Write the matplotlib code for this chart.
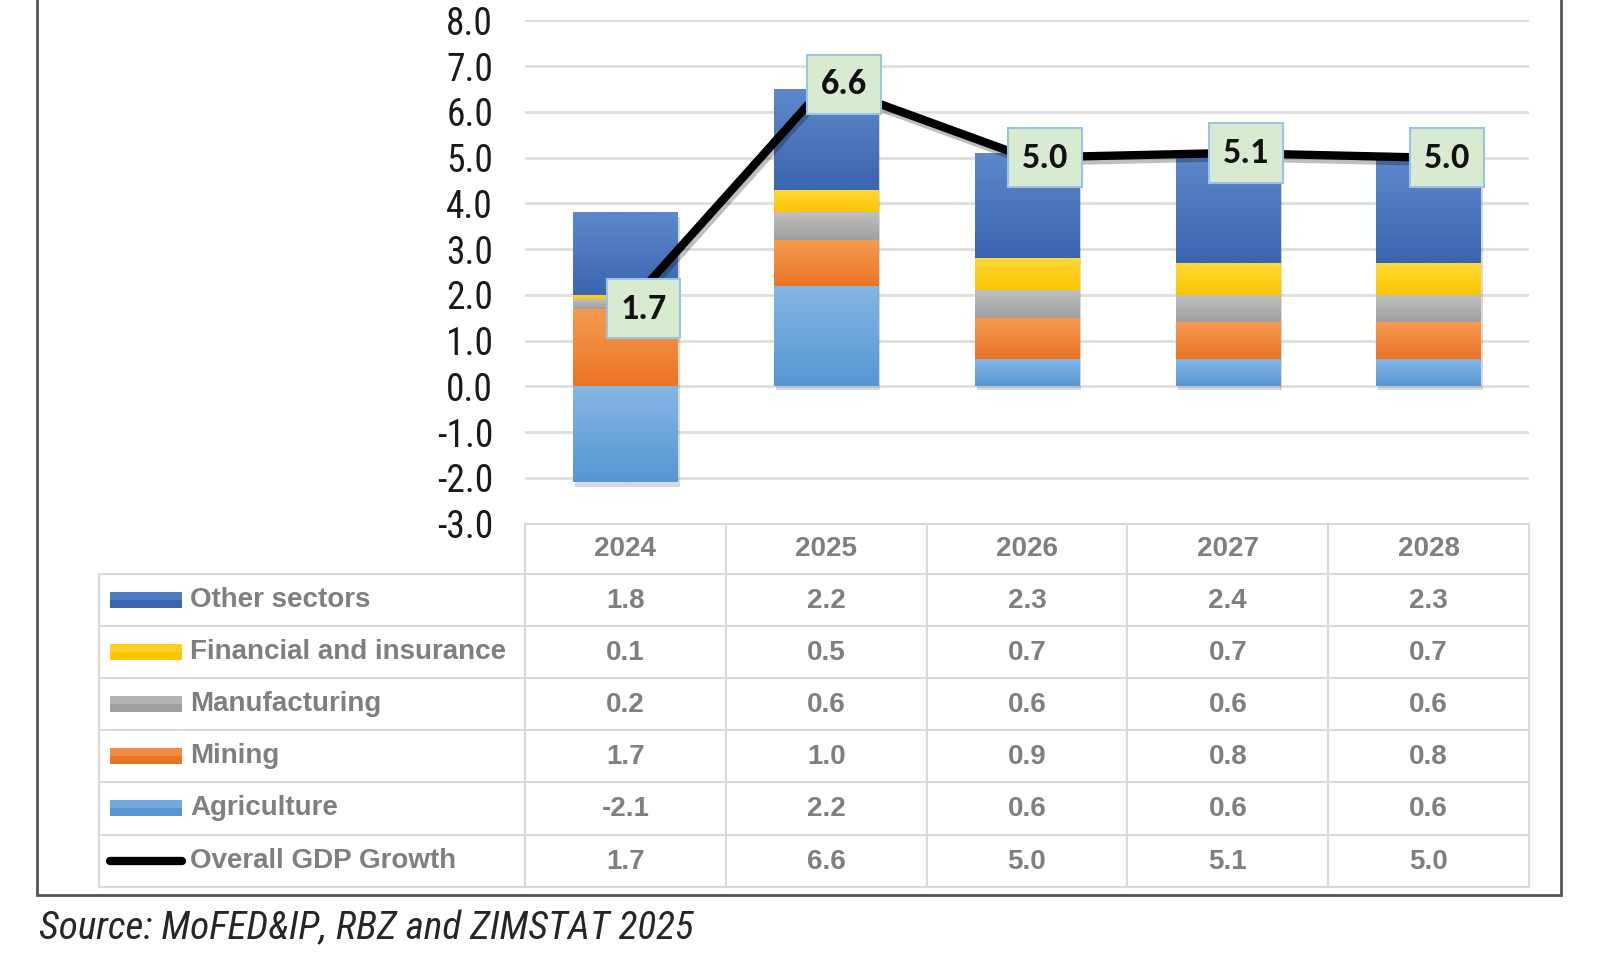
import numpy as np
import matplotlib
matplotlib.use("Agg")
import matplotlib.pyplot as plt
from matplotlib import font_manager
from matplotlib.colors import LinearSegmentedColormap
from matplotlib.patches import Rectangle
import matplotlib.patheffects as pe

years = ["2024", "2025", "2026", "2027", "2028"]
agriculture = [-2.1, 2.2, 0.6, 0.6, 0.6]
mining = [1.7, 1.0, 0.9, 0.8, 0.8]
manufacturing = [0.2, 0.6, 0.6, 0.6, 0.6]
financial = [0.1, 0.5, 0.7, 0.7, 0.7]
other = [1.8, 2.2, 2.3, 2.4, 2.3]
gdp = [1.7, 6.6, 5.0, 5.1, 5.0]
y_ticks = np.arange(-3, 9, 1)


def pick(*names):
    have = {f.name for f in font_manager.fontManager.ttflist}
    for n in names:
        if n in have:
            return n
    return "DejaVu Sans"


NARROW = pick("Liberation Sans Narrow", "Roboto Condensed", "Liberation Sans")
SANS = pick("Liberation Sans", "DejaVu Sans")
LABEL = pick("Carlito", "Lato", "Open Sans")

# (name, values, top colour, bottom colour) in stacking order
series = [
    ("Agriculture", agriculture, "#86b7e4", "#5596d3"),
    ("Mining", mining, "#f59b52", "#eb7424"),
    ("Manufacturing", manufacturing, "#c0c0c0", "#9f9f9f"),
    ("Financial and insurance", financial, "#ffd83a", "#fbc600"),
    ("Other sectors", other, "#5d88ca", "#3b66b0"),
]

W, H = 1600, 960
fig = plt.figure(figsize=(W / 100, H / 100), dpi=100)

# overlay in pixel units for frame and table
ov = fig.add_axes([0, 0, 1, 1], zorder=0)
ov.set_xlim(0, W)
ov.set_ylim(H, 0)
ov.axis("off")

ax_left, ax_right = 525, 1529
y_top, y_bot = 20.4, 523.5
ax = fig.add_axes([ax_left / W, 1 - y_bot / H, (ax_right - ax_left) / W, (y_bot - y_top) / H], zorder=1)
ax.patch.set_alpha(0)

x = np.arange(len(years))
bw = 0.52
pos_base = np.zeros(len(years))
neg_base = np.zeros(len(years))
shadow = [pe.SimplePatchShadow(offset=(1.5, -3), alpha=0.18), pe.Normal()]
for name, vals, ctop, cbot in series:
    vals = np.array(vals)
    base = np.where(vals >= 0, pos_base, neg_base)
    bars = ax.bar(x, vals, bw, bottom=base, color=cbot, zorder=2, linewidth=0)
    cmap = LinearSegmentedColormap.from_list(name, [cbot, ctop])
    for r in bars:
        r.set_path_effects(shadow)
        x0, w = r.get_x(), r.get_width()
        lo, hi = sorted([r.get_y(), r.get_y() + r.get_height()])
        grad = np.linspace(0, 1, 64).reshape(-1, 1)
        im = ax.imshow(grad, extent=[x0, x0 + w, lo, hi], origin="lower", cmap=cmap,
                       aspect="auto", zorder=2.1, interpolation="bilinear")
        im.set_clip_path(r)
    pos_base += np.where(vals >= 0, vals, 0)
    neg_base += np.where(vals < 0, vals, 0)

ax.plot(x, gdp, color="black", lw=6, solid_capstyle="round", zorder=4,
        path_effects=[pe.SimpleLineShadow(offset=(1.5, -3), alpha=0.25), pe.Normal()])
for i, v in enumerate(gdp):
    ax.annotate(f"{v:.1f}", (i, v), xytext=(13, 0), textcoords="offset points",
                ha="center", va="center", fontsize=26, fontweight="bold", family=LABEL,
                color="#111111", zorder=6,
                bbox=dict(boxstyle="square,pad=0.38", fc="#d8ead0", ec="#9cc3e5", lw=1.5))

ax.set_xlim(-0.5, len(years) - 0.5)
ax.set_ylim(-3, 8)
ax.set_yticks(y_ticks)
ax.set_yticklabels([f"{t:.1f}" for t in y_ticks], fontsize=27, family=NARROW, color="#1a1a1a")
ax.set_xticks([])
ax.tick_params(axis="y", length=0, pad=23)
for s in ax.spines.values():
    s.set_visible(False)
for t in y_ticks[1:]:
    ax.axhline(t, color="#dedede", lw=2, zorder=1)

# frame
ov.add_patch(Rectangle((37, -20), 1561 - 37, 895 + 20, fill=False, ec="#555555", lw=2))

# table
gc = "#d9d9d9"
lab_left = 99
col_w = (ax_right - ax_left) / len(years)
head_top, head_bot = 523.5, 573.5
row_h = 52.2
rows = [("Other sectors", other), ("Financial and insurance", financial),
        ("Manufacturing", manufacturing), ("Mining", mining),
        ("Agriculture", agriculture), ("Overall GDP Growth", gdp)]
key_cols = {s[0]: s[2] for s in series}
key_cols_b = {s[0]: s[3] for s in series}
tab_bot = head_bot + row_h * len(rows)

ov.plot([ax_left, ax_right], [head_top, head_top], color=gc, lw=1.5)
for k in range(len(rows) + 1):
    yy = head_bot + k * row_h
    ov.plot([lab_left, ax_right], [yy, yy], color=gc, lw=1.5)
ov.plot([lab_left, lab_left], [head_bot, tab_bot], color=gc, lw=1.5)
for j in range(len(years) + 1):
    xx = ax_left + j * col_w
    ov.plot([xx, xx], [head_top, tab_bot], color=gc, lw=1.5)

tc = "#7f7f7f"
for j, yr in enumerate(years):
    ov.text(ax_left + (j + 0.5) * col_w, (head_top + head_bot) / 2 + 1, yr, ha="center", va="center",
            fontsize=20, fontweight="bold", family=SANS, color=tc)
for k, (name, vals) in enumerate(rows):
    yc = head_bot + (k + 0.5) * row_h
    if name in key_cols:
        ov.add_patch(Rectangle((110, yc - 8), 72, 16, color=key_cols_b[name], lw=0))
        ov.add_patch(Rectangle((110, yc - 8), 72, 8, color=key_cols[name], lw=0, alpha=0.6))
    else:
        ov.plot([110, 182], [yc, yc], color="black", lw=6, solid_capstyle="round")
    ov.text(190, yc, name, ha="left", va="center", fontsize=20, fontweight="bold",
            family=SANS, color=tc)
    for j, v in enumerate(vals):
        ov.text(ax_left + (j + 0.5) * col_w, yc + 1, f"{v:.1f}", ha="center", va="center",
                fontsize=20, fontweight="bold", family=SANS, color=tc)

ov.text(39, 929, "Source: MoFED&IP, RBZ and ZIMSTAT 2025", ha="left", va="center",
        fontsize=28.3, style="italic", family=NARROW, color="#262626")

fig.savefig("out.png", dpi=100)
